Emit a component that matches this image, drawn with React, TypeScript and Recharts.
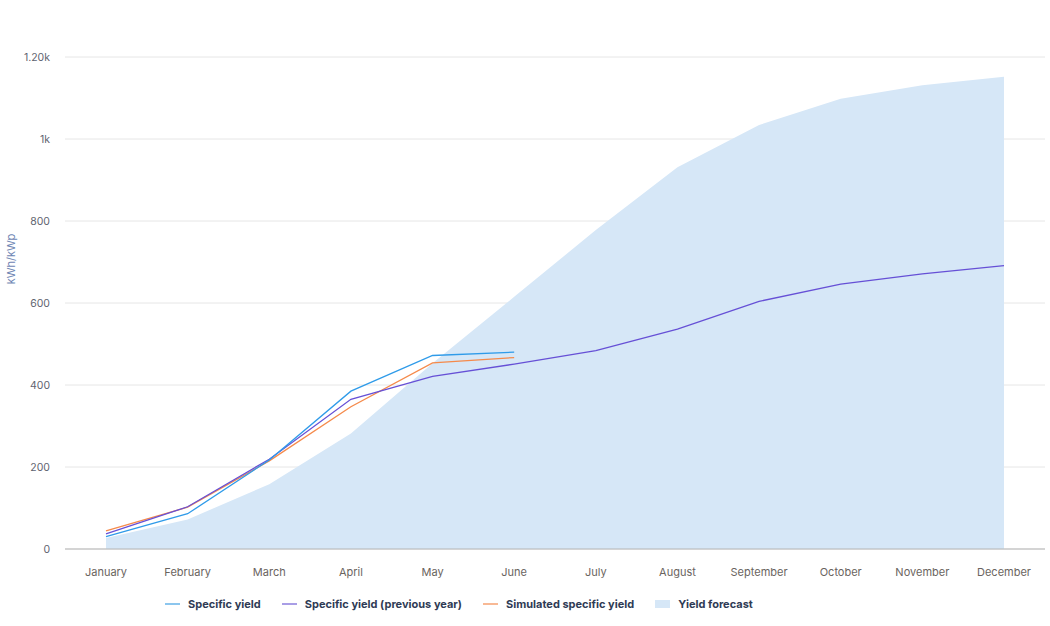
import React from "react";
import {
  Area,
  CartesianGrid,
  ComposedChart,
  Legend,
  Line,
  XAxis,
  YAxis,
} from "recharts";

const months = [
  "January",
  "February",
  "March",
  "April",
  "May",
  "June",
  "July",
  "August",
  "September",
  "October",
  "November",
  "December",
];

const specificYield = [30, 86, 217, 385, 472, 480, null, null, null, null, null, null];
const previousYear = [37, 103, 219, 365, 421, 451, 484, 536, 604, 646, 671, 691];
const simulatedYield = [44, 102, 215, 347, 454, 467, null, null, null, null, null, null];
const yieldForecast = [27, 72, 158, 282, 453, 615, 778, 931, 1034, 1098, 1131, 1152];

const yTicks = [0, 200, 400, 600, 800, 1000, 1200];

const legendItems = [
  { label: "Specific yield", color: "#8cc6ee", type: "line" },
  { label: "Specific yield (previous year)", color: "#a99ee6", type: "line" },
  { label: "Simulated specific yield", color: "#f8b995", type: "line" },
  { label: "Yield forecast", color: "#d6e7f7", type: "rect" },
];

const data = months.map((name, i) => ({
  name,
  specific: specificYield[i],
  previous: previousYear[i],
  simulated: simulatedYield[i],
  forecast: yieldForecast[i],
}));

function formatTick(value: number) {
  if (value === 1000) return "1k";
  if (value > 1000) return (value / 1000).toFixed(2) + "k";
  return String(value);
}

function ChartLegend() {
  return (
    <div style={{ display: "flex", alignItems: "center", height: 20, fontFamily: "Inter", fontSize: 11, fontWeight: 700, color: "#2f3b55" }}>
      {legendItems.map((item) => (
        <div key={item.label} style={{ display: "flex", alignItems: "center", marginRight: 21 }}>
          <span
            style={{
              display: "inline-block",
              width: 15,
              height: item.type === "rect" ? 8 : 2,
              background: item.color,
              marginRight: 8,
            }}
          />
          {item.label}
        </div>
      ))}
    </div>
  );
}

function YLabel(props: any) {
  const { viewBox } = props;
  const cx = 11;
  const cy = viewBox.y + viewBox.height / 2 - 44;
  return (
    <text
      x={cx}
      y={cy}
      transform={`rotate(-90, ${cx}, ${cy})`}
      textAnchor="middle"
      dominantBaseline="central"
      fill="#6f86b4"
      fontSize={11}
      fontFamily="Inter"
    >
      kWh/kWp
    </text>
  );
}

export default function App() {
  return (
    <div style={{ position: "absolute", left: 0, top: 0, background: "#fff" }}>
      <ComposedChart
        width={1050}
        height={626}
        data={data}
        margin={{ top: 57, right: 5, left: 8, bottom: 27 }}
      >
        <CartesianGrid vertical={false} stroke="#e6e6e6" />
        <XAxis
          dataKey="name"
          padding={{ left: 41, right: 41 }}
          tickLine={false}
          axisLine={{ stroke: "#b5b5b5" }}
          tick={{ fill: "#6a6460", fontSize: 11, fontFamily: "Inter" }}
          tickMargin={13}
          height={30}
          interval={0}
        />
        <YAxis
          width={57}
          domain={[0, 1200]}
          ticks={yTicks}
          tickFormatter={formatTick}
          tickLine={false}
          axisLine={false}
          tickMargin={9}
          tick={{ fill: "#5f6470", fontSize: 10.5, fontFamily: "Inter" }}
          label={<YLabel />}
        />
        <Legend
          content={<ChartLegend />}
          verticalAlign="bottom"
          wrapperStyle={{ top: 594, left: 165, width: "auto" }}
        />
        <Area
          dataKey="forecast"
          type="linear"
          fill="#d6e7f7"
          fillOpacity={1}
          stroke="none"
          isAnimationActive={false}
        />
        <Line dataKey="simulated" stroke="#f58a4b" strokeWidth={1.3} dot={false} isAnimationActive={false} />
        <Line dataKey="previous" stroke="#6650d6" strokeWidth={1.3} dot={false} isAnimationActive={false} />
        <Line dataKey="specific" stroke="#2f9be9" strokeWidth={1.3} dot={false} isAnimationActive={false} />
      </ComposedChart>
    </div>
  );
}
